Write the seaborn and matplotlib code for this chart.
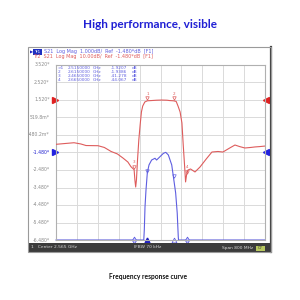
import numpy as np
import pandas as pd
import matplotlib
matplotlib.use("Agg")
import matplotlib.pyplot as plt
from matplotlib.patches import Rectangle
import seaborn as sns

# ---------------- data ----------------
# Tr2 (red) S21, 10 dB/div, Ref -1.480 dB
freq_red = [2.165, 2.203, 2.234, 2.260, 2.280, 2.326, 2.350, 2.376, 2.400, 2.421,
            2.440, 2.452, 2.464, 2.467, 2.470, 2.473, 2.477, 2.482, 2.487, 2.492,
            2.497, 2.505, 2.515, 2.530, 2.550, 2.570, 2.590, 2.600, 2.615, 2.625,
            2.632, 2.640, 2.647, 2.652, 2.657, 2.661, 2.665, 2.670, 2.680, 2.697,
            2.716, 2.740, 2.762, 2.785, 2.804, 2.830, 2.850, 2.868, 2.888, 2.910,
            2.927, 2.945, 2.965]
db_red = [-26.8, -26.3, -25.9, -26.6, -27.5, -27.6, -28.6, -30.9, -32.3, -34.6,
          -36.9, -39.6, -41.3, -47.2, -51.2, -47.0, -35.8, -24.3, -15.8, -8.3,
          -4.9, -2.6, -1.92, -1.8, -1.6, -1.5, -1.6, -1.8, -1.94, -2.3,
          -4.9, -8.3, -14.6, -27.2, -38.6, -48.3, -44.07, -41.5, -40.9, -42.6,
          -39.8, -35.2, -31.2, -30.9, -31.2, -28.9, -27.2, -28.1, -28.9, -28.6,
          -28.3, -28.1, -27.8]

# Tr1 (blue) S21, 1 dB/div, Ref -1.480 dB (display clipped at bottom)
freq_blue = [2.165, 2.501, 2.503, 2.5057, 2.5095, 2.5145, 2.521, 2.531, 2.544, 2.550,
             2.563, 2.576, 2.585, 2.595, 2.608, 2.617, 2.623, 2.629, 2.633, 2.634, 2.965]
db_blue = [-6.48, -6.48, -5.9, -4.59, -3.62, -2.65, -2.19, -1.91, -1.81, -1.91,
           -1.72, -1.53, -1.47, -1.62, -2.19, -3.15, -3.79, -4.94, -6.29, -6.48, -6.48]

y_tick_labels = ["3.520*", "2.520*", "1.520*", "519.8m*", "-480.2m*", "-1.480*",
                 "-2.480*", "-3.480*", "-4.480*", "-5.480*", "-6.480*"]
marker_ids = ["1", "2", "3", "4"]
marker_freqs = [2.515, 2.615, 2.465, 2.665]
marker_vals = [-1.9207, -1.9386, -41.278, -44.067]

title = "High performance, visible"
caption = "Frequency response curve"
hdr1 = "Tr1  S21  Log Mag  1.000dB/  Ref  -1.480*dB  [F1]"
hdr2 = "Tr2  S21  Log Mag  10.00dB/  Ref  -1.480*dB  [F1]"

RED = "#de5c5c"
BLUE = "#5e5ee0"
DBLUE = "#2020c0"

# ---------------- figure ----------------
fig = plt.figure(figsize=(3, 3), dpi=100)
fig.patch.set_facecolor("white")

def P(x, y):
    return x / 300.0, 1 - y / 300.0

# outer instrument frame
x0, y0 = P(28, 252)
fig.patches.append(Rectangle((x0, y0), 243 / 300, 205 / 300, transform=fig.transFigure,
                             facecolor="none", edgecolor="#9a9a9a", lw=0.8, zorder=3))
# right dark edge
fig.add_artist(plt.Line2D([271 / 300, 271 / 300], [y0, y0 + 205 / 300], transform=fig.transFigure,
                          color="#444444", lw=1.6, zorder=3))
# status bar
sx, sy = P(28, 252)
fig.patches.append(Rectangle((sx, sy), 243 / 300, 9 / 300, transform=fig.transFigure,
                             facecolor="#3c3c3c", edgecolor="none", zorder=1))

# plot axes
ax = fig.add_axes([56 / 300, 60 / 300, 209 / 300, 175 / 300])
ax.set_facecolor("white")
ax.set_xlim(2.165, 2.965)
ax.set_ylim(-6.48, 3.52)
ax.set_xticks(np.linspace(2.165, 2.965, 11))
ax.set_yticks(np.linspace(-6.48, 3.52, 11))
ax.grid(True, color="#dadada", lw=0.7)
ax.set_axisbelow(True)
ax.tick_params(length=0, labelbottom=False, labelleft=False)
for s in ax.spines.values():
    s.set_color("#b0b0b0")
    s.set_linewidth(0.8)

ax2 = ax.twinx()
ax2.set_ylim(-81.48, 18.52)
ax2.set_yticks([])
for s in ax2.spines.values():
    s.set_visible(False)

df_red = pd.DataFrame({"f": freq_red, "db": db_red})
df_blue = pd.DataFrame({"f": freq_blue, "db": db_blue})
sns.lineplot(data=df_red, x="f", y="db", ax=ax2, color=RED, lw=0.8, sort=False)
sns.lineplot(data=df_blue, x="f", y="db", ax=ax, color=BLUE, lw=0.8, sort=False)
ax.lines[-1].set_clip_on(False)
ax.set_xlabel(""); ax.set_ylabel(""); ax2.set_ylabel("")

# markers on red trace
for mid, mf, mv in zip(marker_ids, marker_freqs, marker_vals):
    ax2.plot([mf], [mv + 1.5], marker="v", ms=2.5, mfc="none", mec=RED, mew=0.5)
    ax2.text(mf, mv + 3.0, mid, color=RED, fontsize=3, ha="center", va="bottom")

# markers on blue trace
for mf in marker_freqs[:2]:
    yv = np.interp(mf, freq_blue, db_blue)
    ax.plot([mf], [yv + 0.1], marker="v", ms=2.5, mfc="none", mec=BLUE, mew=0.5)

# off-scale marker indicators at bottom
ax.plot([marker_freqs[0]], [-6.48], marker="^", ms=3.5, color=DBLUE, clip_on=False)
ax.plot([marker_freqs[1]], [-6.48], marker="^", ms=3.5, mfc="white", mec=BLUE, mew=0.6, clip_on=False)
for mf in marker_freqs[2:]:
    ax.plot([mf], [-6.48], marker="d", ms=3.5, mfc="#c8c8ff", mec=BLUE, mew=0.6, clip_on=False)

# reference arrows
ax.plot([2.160], [1.52], marker=">", ms=4, color="#e02020", clip_on=False)
ax.plot([2.970], [1.52], marker="<", ms=4, color="#e02020", clip_on=False)
ax.plot([2.160], [-1.48], marker=">", ms=4, color="#2020e0", clip_on=False)
ax.plot([2.970], [-1.48], marker="<", ms=4, color="#2020e0", clip_on=False)

# y labels
for lab, yv in zip(y_tick_labels, np.linspace(3.52, -6.48, 11)):
    c = "#2020d0" if lab.startswith("-1.480") else "#8a8a8a"
    ax.text(-0.03, yv, lab, transform=ax.get_yaxis_transform(), ha="right", va="center",
            fontsize=3.3, color=c)

# marker table
rows = [(">1", "2.5150000", "-1.9207"), ("2", "2.6150000", "-1.9386"),
        ("3", "2.4650000", "-41.278"), ("4", "2.6650000", "-44.067")]
for i, (n, fq, v) in enumerate(rows):
    yy = 68 + i * 4
    fig.text(*P(58, yy), n, fontsize=3.1, color=BLUE, va="center", ha="left")
    fig.text(*P(68, yy), fq, fontsize=3.1, color=BLUE, va="center", ha="left")
    fig.text(*P(93, yy), "GHz", fontsize=3.1, color=BLUE, va="center", ha="left")
    fig.text(*P(127, yy), v, fontsize=3.1, color=BLUE, va="center", ha="right")
    fig.text(*P(132, yy), "dB", fontsize=3.1, color=BLUE, va="center", ha="left")

# header lines
fig.text(*P(29.5, 52), "\u25B6", fontsize=3, color=DBLUE, va="center", ha="left")
fig.patches.append(Rectangle(P(33, 54.5), 9 / 300, 5 / 300, transform=fig.transFigure,
                             facecolor="#2030c0", edgecolor="none"))
fig.text(*P(37.5, 52), "Tr1", fontsize=3, color="white", va="center", ha="center")
fig.text(*P(44, 52), hdr1[5:], fontsize=3.5, color=BLUE, va="center", ha="left")
fig.text(*P(33, 57), hdr2, fontsize=3.5, color=RED, va="center", ha="left")

# status bar text
fig.text(*P(31, 247.5), "1   Center 2.565 GHz", fontsize=3.2, color="#d8d8d8", va="center", ha="left")
fig.text(*P(148, 247.5), "IFBW 70 kHz", fontsize=3.2, color="#d8d8d8", va="center", ha="center")
fig.text(*P(253, 247.5), "Span 800 MHz", fontsize=3.2, color="#d8d8d8", va="center", ha="right")
fig.patches.append(Rectangle(P(256, 250.5), 9 / 300, 5 / 300, transform=fig.transFigure,
                             facecolor="#b8c860", edgecolor="none"))
fig.text(*P(260.5, 248), "C?", fontsize=2.8, color="#333333", va="center", ha="center")

# title & caption
fig.text(*P(150, 25), title, fontsize=8.5, fontweight="bold", color="#1f1fd4",
         ha="center", va="center", family="Lato")
fig.text(*P(148, 276), caption, fontsize=4.8, fontweight="bold", color="#111111",
         ha="center", va="center", family="Lato")

fig.savefig("out.png", dpi=100, facecolor="white")
